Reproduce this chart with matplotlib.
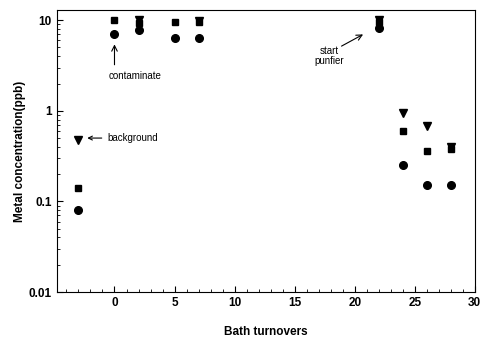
import numpy as np
import matplotlib
matplotlib.use('Agg')
import matplotlib.pyplot as plt
from matplotlib.ticker import LogLocator, FixedLocator, NullFormatter

# bath turnovers and measured concentrations (ppb)
tri_x = [-3, 2, 7, 22, 24, 26, 28]
tri_y = [0.48, 10.0, 9.8, 10.0, 0.95, 0.68, 0.40]
sq_x = [-3, 0, 2, 5, 7, 22, 24, 26, 28]
sq_y = [0.14, 10.0, 9.4, 9.6, 9.6, 9.6, 0.60, 0.36, 0.38]
circ_x = [-3, 0, 2, 5, 7, 22, 24, 26, 28]
circ_y = [0.08, 7.0, 7.8, 6.3, 6.3, 8.2, 0.25, 0.15, 0.15]

plt.rcParams['font.family'] = ['Liberation Sans', 'DejaVu Sans']

fig = plt.figure(figsize=(4.9, 3.38), dpi=100)
ax = fig.add_axes([0.116, 0.136, 0.853, 0.834])

ax.plot(tri_x, tri_y, 'v', color='black', ms=5.5, ls='none')
ax.plot(sq_x, sq_y, 's', color='black', ms=5, ls='none')
ax.plot(circ_x, circ_y, 'o', color='black', ms=5.5, ls='none')

ax.set_yscale('log')
ax.set_xlim(-4.8, 30)
ax.set_ylim(0.01, 12.9)
ax.set_xticks([0, 5, 10, 15, 20, 25, 30])
ax.xaxis.set_minor_locator(FixedLocator(np.arange(-4, 30, 1)))
ax.set_yticks([0.01, 0.1, 1, 10])
ax.set_yticklabels(['0.01', '0.1', '1', '10'])
ax.yaxis.set_minor_locator(LogLocator(base=10, subs=np.arange(2, 10)))
ax.yaxis.set_minor_formatter(NullFormatter())
ax.tick_params(which='both', direction='in', labelsize=8.5)
ax.tick_params(which='major', length=4)
ax.tick_params(which='minor', length=2)
for lab in ax.get_xticklabels() + ax.get_yticklabels():
    lab.set_fontweight('bold')

ax.set_xlabel('Bath turnovers', fontsize=8.5, fontweight='bold', labelpad=12)
ax.set_ylabel('Metal concentration(ppb)', fontsize=8.5, fontweight='bold', labelpad=2)

arrow = dict(arrowstyle='->', color='black', lw=0.8)
ax.annotate('background', xy=(-2.5, 0.5), xytext=(-0.6, 0.5), fontsize=7,
            va='center', ha='left', arrowprops=arrow)
ax.annotate('', xy=(0, 5.8), xytext=(0, 3.0), arrowprops=arrow)
ax.text(1.7, 2.4, 'contaminate', fontsize=7, va='center', ha='center')
ax.annotate('', xy=(20.9, 7.2), xytext=(18.7, 5.0), arrowprops=arrow)
ax.text(17.9, 4.0, 'start\npunfier', fontsize=7, va='center', ha='center',
        linespacing=1.0)

fig.savefig('out.png', dpi=100)
